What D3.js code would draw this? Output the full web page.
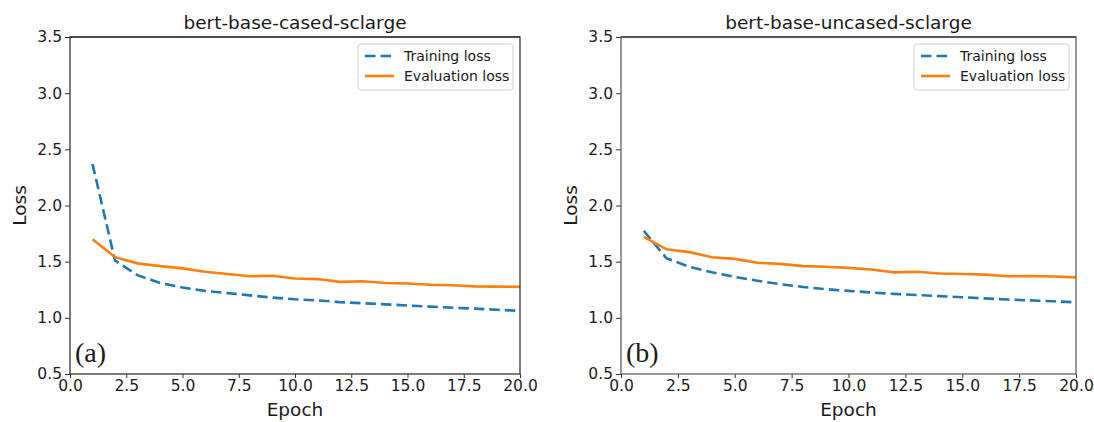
<!DOCTYPE html>
<html>
<head>
<meta charset="utf-8">
<script src="https://cdn.jsdelivr.net/npm/d3@7"></script>
<style>
  html, body { margin: 0; padding: 0; background: #fff; }
  svg { display: block; }
  text { font-family: "DejaVu Sans", sans-serif; fill: #1a1a1a; }
</style>
</head>
<body>
<svg id="chart" width="1094" height="422"></svg>
<script>
// ---- data ----
const epochs = [1,2,3,4,5,6,7,8,9,10,11,12,13,14,15,16,17,18,19,20];
const trainLossA = [2.37,1.51,1.38,1.31,1.27,1.24,1.22,1.20,1.18,1.165,1.155,1.14,1.13,1.12,1.11,1.10,1.09,1.082,1.072,1.062];
const evalLossA  = [1.70,1.54,1.485,1.46,1.44,1.41,1.39,1.37,1.375,1.35,1.345,1.32,1.325,1.31,1.305,1.295,1.29,1.28,1.278,1.276];
const trainLossB = [1.775,1.53,1.455,1.405,1.365,1.33,1.30,1.275,1.255,1.24,1.226,1.213,1.203,1.193,1.183,1.173,1.163,1.155,1.147,1.138];
const evalLossB  = [1.72,1.61,1.585,1.54,1.525,1.49,1.48,1.46,1.455,1.445,1.43,1.405,1.41,1.395,1.39,1.385,1.37,1.372,1.368,1.36];
const yTicks = [0.5,1.0,1.5,2.0,2.5,3.0,3.5];
const xTicks = [0,2.5,5,7.5,10,12.5,15,17.5,20];
const titles = ["bert-base-cased-sclarge","bert-base-uncased-sclarge"];
const panelTags = ["(a)","(b)"];
const seriesNames = ["Training loss","Evaluation loss"];
const xLabel = "Epoch", yLabel = "Loss";

// ---- layout ----
const svg = d3.select("#chart");
const panels = [
  {x0:70, x1:520, train:trainLossA, evl:evalLossA, title:titles[0], tag:panelTags[0], spine:"#262626"},
  {x0:621, x1:1076, train:trainLossB, evl:evalLossB, title:titles[1], tag:panelTags[1], spine:"#555"}
];
const yTop = 37, yBot = 374;
const blue = "#1f77b4", orange = "#ff7f0e";

panels.forEach(p => {
  const x = d3.scaleLinear().domain([0,20]).range([p.x0,p.x1]);
  const y = d3.scaleLinear().domain([0.5,3.5]).range([yBot,yTop]);
  const g = svg.append("g");

  // axes
  const xAxis = d3.axisBottom(x).tickValues(xTicks).tickFormat(d3.format(".1f")).tickSize(4).tickPadding(2);
  const yAxis = d3.axisLeft(y).tickValues(yTicks).tickFormat(d3.format(".1f")).tickSize(5).tickPadding(3);
  const gx = g.append("g").attr("transform",`translate(0,${yBot})`).call(xAxis);
  const gy = g.append("g").attr("transform",`translate(${p.x0},0)`).call(yAxis);
  [gx,gy].forEach(a => {
    a.select(".domain").remove();
    a.selectAll(".tick line").attr("stroke","#333").attr("stroke-width",1);
    a.selectAll(".tick text").attr("font-size",15.5).attr("fill","#1a1a1a")
      .attr("font-family","DejaVu Sans, sans-serif");
  });

  // lines
  const line = d3.line().x((d,i)=>x(epochs[i])).y(d=>y(d));
  g.append("path").datum(p.train).attr("d",line).attr("fill","none")
    .attr("stroke",blue).attr("stroke-width",2.6).attr("stroke-dasharray","10.5,5");
  g.append("path").datum(p.evl).attr("d",line).attr("fill","none")
    .attr("stroke",orange).attr("stroke-width",2.6);

  // spines
  g.append("rect").attr("x",p.x0).attr("y",yTop).attr("width",p.x1-p.x0).attr("height",yBot-yTop)
    .attr("fill","none").attr("stroke",p.spine).attr("stroke-width",1.2);
  g.append("line").attr("x1",p.x0).attr("x2",p.x1).attr("y1",yTop).attr("y2",yTop)
    .attr("stroke","#1a1a1a").attr("stroke-width",1.2);

  // title and labels
  const cx = (p.x0+p.x1)/2;
  g.append("text").attr("x",cx).attr("y",29).attr("text-anchor","middle").attr("font-size",18.5).text(p.title);
  g.append("text").attr("x",cx).attr("y",416).attr("text-anchor","middle").attr("font-size",18.5).text(xLabel);
  g.append("text").attr("transform",`translate(${p.x0-44},${(yTop+yBot)/2}) rotate(-90)`)
    .attr("text-anchor","middle").attr("font-size",18.5).text(yLabel);
  g.append("text").attr("x",p.x0+5).attr("y",362).attr("font-size",28)
    .style("font-family","'Liberation Serif', 'Times New Roman', serif")
    .text(p.tag);

  // legend
  const lx1 = p.x1 - 7, lw = 155, lx0 = lx1 - lw;
  const lg = g.append("g");
  lg.append("rect").attr("x",lx0).attr("y",44).attr("width",lw).attr("height",46).attr("rx",3)
    .attr("fill","#fff").attr("fill-opacity",0.8).attr("stroke","#d0d0d0").attr("stroke-width",1);
  const rows = [{name:seriesNames[0], c:blue, dash:"10.5,5", yy:56},{name:seriesNames[1], c:orange, dash:null, yy:76}];
  rows.forEach(r => {
    lg.append("line").attr("x1",lx0+7).attr("x2",lx0+36).attr("y1",r.yy).attr("y2",r.yy)
      .attr("stroke",r.c).attr("stroke-width",2.6).attr("stroke-dasharray",r.dash);
    lg.append("text").attr("x",lx0+46).attr("y",r.yy+5).attr("font-size",14).text(r.name);
  });
});
</script>
</body>
</html>
